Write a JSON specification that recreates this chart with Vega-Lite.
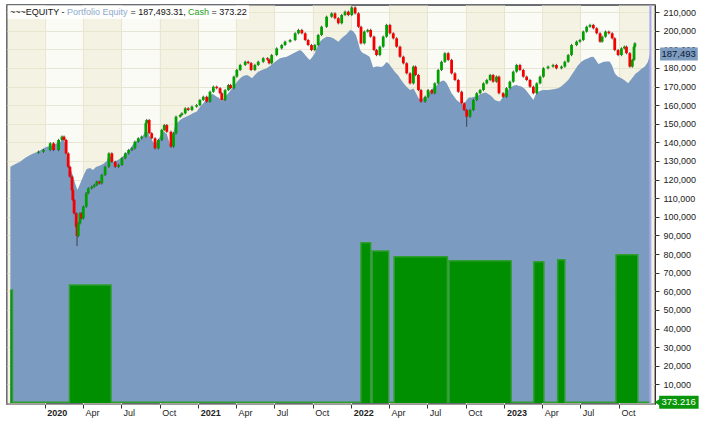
{
  "$schema": "https://vega.github.io/schema/vega-lite/v6.json",
  "width": 648,
  "height": 399,
  "autosize": {"type": "none"},
  "padding": {"left": 7, "top": 5, "right": 47, "bottom": 20},
  "background": "#ffffff",
  "config": {
    "font": "Liberation Sans",
    "scale": {"continuousPadding": 0},
    "view": {"fill": "#fbfbf6", "stroke": "#3b3f47", "strokeWidth": 1.5},
    "axis": {"labelFont": "Liberation Sans", "labelFontSize": 9, "labelColor": "#222222", "tickColor": "#333333", "gridColor": "#e7e5d4", "gridWidth": 1, "labelOverlap": false}
  },
  "datasets": {
    "quarters": [
      {"date": "2019-10-01", "end": "2020-01-01"},
      {"date": "2020-04-01", "end": "2020-07-01"},
      {"date": "2020-10-01", "end": "2021-01-01"},
      {"date": "2021-04-01", "end": "2021-07-01"},
      {"date": "2021-10-01", "end": "2022-01-01"},
      {"date": "2022-04-01", "end": "2022-07-01"},
      {"date": "2022-10-01", "end": "2023-01-01"},
      {"date": "2023-04-01", "end": "2023-07-01"},
      {"date": "2023-10-01", "end": "2024-01-01"}
    ],
    "notes": [{"label": "~~~EQUITY - "}],
    "equity": [
      {"date": "2019-10-11", "equity": 126900}, {"date": "2019-10-23", "equity": 128400},
      {"date": "2019-11-03", "equity": 129600}, {"date": "2019-11-15", "equity": 131600},
      {"date": "2019-11-27", "equity": 133200}, {"date": "2019-12-07", "equity": 134300},
      {"date": "2019-12-16", "equity": 135000}, {"date": "2019-12-26", "equity": 136400},
      {"date": "2020-01-06", "equity": 137700}, {"date": "2020-01-14", "equity": 138100},
      {"date": "2020-01-21", "equity": 138600}, {"date": "2020-01-31", "equity": 139700},
      {"date": "2020-02-07", "equity": 140400}, {"date": "2020-02-14", "equity": 141300},
      {"date": "2020-02-19", "equity": 139700}, {"date": "2020-02-23", "equity": 132200},
      {"date": "2020-02-26", "equity": 129500}, {"date": "2020-03-01", "equity": 126800},
      {"date": "2020-03-06", "equity": 123600}, {"date": "2020-03-09", "equity": 121400},
      {"date": "2020-03-13", "equity": 118200}, {"date": "2020-03-19", "equity": 114400},
      {"date": "2020-03-23", "equity": 116600}, {"date": "2020-03-29", "equity": 119800},
      {"date": "2020-04-04", "equity": 123000}, {"date": "2020-04-10", "equity": 125700},
      {"date": "2020-04-18", "equity": 126200}, {"date": "2020-04-25", "equity": 125200},
      {"date": "2020-05-02", "equity": 126800}, {"date": "2020-05-12", "equity": 127600},
      {"date": "2020-05-19", "equity": 128400}, {"date": "2020-05-28", "equity": 130000},
      {"date": "2020-06-01", "equity": 133200}, {"date": "2020-06-05", "equity": 132700},
      {"date": "2020-06-12", "equity": 129500}, {"date": "2020-06-19", "equity": 130000},
      {"date": "2020-06-29", "equity": 131300}, {"date": "2020-07-06", "equity": 132700},
      {"date": "2020-07-15", "equity": 134600}, {"date": "2020-07-22", "equity": 136400},
      {"date": "2020-07-30", "equity": 139100}, {"date": "2020-08-07", "equity": 140700},
      {"date": "2020-08-15", "equity": 141800}, {"date": "2020-08-22", "equity": 143400},
      {"date": "2020-08-29", "equity": 146700}, {"date": "2020-09-03", "equity": 145000},
      {"date": "2020-09-08", "equity": 142900}, {"date": "2020-09-14", "equity": 140700},
      {"date": "2020-09-20", "equity": 138600}, {"date": "2020-09-27", "equity": 141300},
      {"date": "2020-10-04", "equity": 144000}, {"date": "2020-10-09", "equity": 146100},
      {"date": "2020-10-18", "equity": 144500}, {"date": "2020-10-23", "equity": 140700},
      {"date": "2020-10-26", "equity": 138600}, {"date": "2020-10-31", "equity": 142400},
      {"date": "2020-11-07", "equity": 149600}, {"date": "2020-11-14", "equity": 151000},
      {"date": "2020-11-19", "equity": 152000}, {"date": "2020-11-26", "equity": 153100},
      {"date": "2020-12-03", "equity": 153800}, {"date": "2020-12-12", "equity": 154700},
      {"date": "2020-12-20", "equity": 155800}, {"date": "2020-12-28", "equity": 156500},
      {"date": "2021-01-05", "equity": 159000}, {"date": "2021-01-13", "equity": 161000},
      {"date": "2021-01-21", "equity": 163300}, {"date": "2021-01-29", "equity": 165500},
      {"date": "2021-02-05", "equity": 166000}, {"date": "2021-02-14", "equity": 164500},
      {"date": "2021-02-20", "equity": 163800}, {"date": "2021-02-26", "equity": 161900},
      {"date": "2021-03-04", "equity": 163800}, {"date": "2021-03-10", "equity": 165500},
      {"date": "2021-03-18", "equity": 167600}, {"date": "2021-03-26", "equity": 169900},
      {"date": "2021-04-03", "equity": 172400}, {"date": "2021-04-11", "equity": 174400},
      {"date": "2021-04-18", "equity": 175700}, {"date": "2021-04-27", "equity": 176200},
      {"date": "2021-05-02", "equity": 175700}, {"date": "2021-05-09", "equity": 174400},
      {"date": "2021-05-16", "equity": 176200}, {"date": "2021-05-24", "equity": 178000},
      {"date": "2021-06-02", "equity": 178900}, {"date": "2021-06-13", "equity": 179800},
      {"date": "2021-06-21", "equity": 181000}, {"date": "2021-06-29", "equity": 182500},
      {"date": "2021-07-07", "equity": 184000}, {"date": "2021-07-15", "equity": 185200},
      {"date": "2021-07-22", "equity": 185600}, {"date": "2021-07-31", "equity": 186000},
      {"date": "2021-08-08", "equity": 186900}, {"date": "2021-08-16", "equity": 187900},
      {"date": "2021-08-24", "equity": 188800}, {"date": "2021-09-01", "equity": 189600},
      {"date": "2021-09-07", "equity": 188600}, {"date": "2021-09-13", "equity": 186900},
      {"date": "2021-09-19", "equity": 185300}, {"date": "2021-09-24", "equity": 184300},
      {"date": "2021-09-30", "equity": 185900}, {"date": "2021-10-06", "equity": 187900},
      {"date": "2021-10-12", "equity": 191200}, {"date": "2021-10-18", "equity": 194100},
      {"date": "2021-10-25", "equity": 195500}, {"date": "2021-11-03", "equity": 196800},
      {"date": "2021-11-11", "equity": 196600}, {"date": "2021-11-19", "equity": 195900},
      {"date": "2021-11-25", "equity": 195000}, {"date": "2021-12-01", "equity": 194100},
      {"date": "2021-12-07", "equity": 195500}, {"date": "2021-12-13", "equity": 196800},
      {"date": "2021-12-21", "equity": 198200}, {"date": "2021-12-29", "equity": 200400},
      {"date": "2022-01-05", "equity": 199800}, {"date": "2022-01-12", "equity": 197700},
      {"date": "2022-01-17", "equity": 193900}, {"date": "2022-01-22", "equity": 189600},
      {"date": "2022-01-28", "equity": 188000}, {"date": "2022-02-03", "equity": 187500},
      {"date": "2022-02-09", "equity": 186700}, {"date": "2022-02-14", "equity": 185900},
      {"date": "2022-02-22", "equity": 180200}, {"date": "2022-03-01", "equity": 180800},
      {"date": "2022-03-06", "equity": 180700}, {"date": "2022-03-13", "equity": 180500},
      {"date": "2022-03-18", "equity": 181000}, {"date": "2022-03-26", "equity": 183200},
      {"date": "2022-04-01", "equity": 182100}, {"date": "2022-04-07", "equity": 180200},
      {"date": "2022-04-15", "equity": 177800}, {"date": "2022-04-23", "equity": 175900},
      {"date": "2022-04-28", "equity": 174100}, {"date": "2022-05-05", "equity": 171900},
      {"date": "2022-05-12", "equity": 170000}, {"date": "2022-05-21", "equity": 168100},
      {"date": "2022-05-29", "equity": 168900}, {"date": "2022-06-04", "equity": 166500},
      {"date": "2022-06-10", "equity": 163800}, {"date": "2022-06-16", "equity": 162800},
      {"date": "2022-06-21", "equity": 163800}, {"date": "2022-06-30", "equity": 164400},
      {"date": "2022-07-07", "equity": 167100}, {"date": "2022-07-15", "equity": 169200},
      {"date": "2022-07-23", "equity": 170300}, {"date": "2022-07-29", "equity": 171900},
      {"date": "2022-08-04", "equity": 173000}, {"date": "2022-08-10", "equity": 173200},
      {"date": "2022-08-16", "equity": 171900}, {"date": "2022-08-22", "equity": 169200},
      {"date": "2022-08-28", "equity": 166400}, {"date": "2022-09-03", "equity": 164700},
      {"date": "2022-09-09", "equity": 162800}, {"date": "2022-09-15", "equity": 161700},
      {"date": "2022-09-21", "equity": 160600}, {"date": "2022-09-25", "equity": 160100},
      {"date": "2022-10-03", "equity": 162800}, {"date": "2022-10-08", "equity": 164100},
      {"date": "2022-10-15", "equity": 164100}, {"date": "2022-10-23", "equity": 164700},
      {"date": "2022-10-31", "equity": 165200}, {"date": "2022-11-06", "equity": 166000},
      {"date": "2022-11-12", "equity": 166500}, {"date": "2022-11-18", "equity": 166800},
      {"date": "2022-11-23", "equity": 166000}, {"date": "2022-11-29", "equity": 165200},
      {"date": "2022-12-05", "equity": 163800}, {"date": "2022-12-09", "equity": 162800},
      {"date": "2022-12-15", "equity": 162200}, {"date": "2022-12-21", "equity": 162000},
      {"date": "2022-12-27", "equity": 163800}, {"date": "2023-01-02", "equity": 166000},
      {"date": "2023-01-09", "equity": 167900}, {"date": "2023-01-18", "equity": 169900},
      {"date": "2023-01-24", "equity": 170600}, {"date": "2023-01-30", "equity": 170800},
      {"date": "2023-02-05", "equity": 170300}, {"date": "2023-02-11", "equity": 170000},
      {"date": "2023-02-19", "equity": 168700}, {"date": "2023-02-27", "equity": 166400},
      {"date": "2023-03-05", "equity": 164700}, {"date": "2023-03-11", "equity": 162800},
      {"date": "2023-03-16", "equity": 165500}, {"date": "2023-03-23", "equity": 167200},
      {"date": "2023-03-29", "equity": 167900}, {"date": "2023-04-05", "equity": 168100},
      {"date": "2023-04-15", "equity": 168100}, {"date": "2023-04-24", "equity": 168400},
      {"date": "2023-05-01", "equity": 168700}, {"date": "2023-05-09", "equity": 169100},
      {"date": "2023-05-16", "equity": 170000}, {"date": "2023-05-23", "equity": 171400},
      {"date": "2023-06-02", "equity": 173500}, {"date": "2023-06-10", "equity": 176200},
      {"date": "2023-06-18", "equity": 178900}, {"date": "2023-06-25", "equity": 181300},
      {"date": "2023-07-04", "equity": 183400}, {"date": "2023-07-12", "equity": 184500},
      {"date": "2023-07-20", "equity": 185200}, {"date": "2023-07-26", "equity": 185900},
      {"date": "2023-08-01", "equity": 186000}, {"date": "2023-08-07", "equity": 184300},
      {"date": "2023-08-13", "equity": 182100}, {"date": "2023-08-19", "equity": 182600},
      {"date": "2023-08-24", "equity": 183200}, {"date": "2023-09-01", "equity": 183400},
      {"date": "2023-09-09", "equity": 183400}, {"date": "2023-09-15", "equity": 181000},
      {"date": "2023-09-21", "equity": 177100}, {"date": "2023-09-28", "equity": 175400},
      {"date": "2023-10-07", "equity": 174400}, {"date": "2023-10-15", "equity": 173200},
      {"date": "2023-10-23", "equity": 171700}, {"date": "2023-10-29", "equity": 173500},
      {"date": "2023-11-04", "equity": 175300}, {"date": "2023-11-10", "equity": 177000},
      {"date": "2023-11-16", "equity": 178000}, {"date": "2023-11-23", "equity": 179400},
      {"date": "2023-12-02", "equity": 180700}, {"date": "2023-12-09", "equity": 183200},
      {"date": "2023-12-14", "equity": 187500}
    ],
    "cash": [
      {"date": "2019-10-11", "cash": 60700}, {"date": "2019-10-16", "cash": 373},
      {"date": "2020-02-29", "cash": 63400}, {"date": "2020-06-07", "cash": 373},
      {"date": "2022-01-24", "cash": 86100}, {"date": "2022-02-16", "cash": 373},
      {"date": "2022-02-20", "cash": 81700}, {"date": "2022-03-31", "cash": 373},
      {"date": "2022-04-13", "cash": 78600}, {"date": "2022-08-18", "cash": 373},
      {"date": "2022-08-22", "cash": 76400}, {"date": "2023-01-17", "cash": 373},
      {"date": "2023-03-12", "cash": 75900}, {"date": "2023-04-05", "cash": 373},
      {"date": "2023-05-08", "cash": 77000}, {"date": "2023-05-25", "cash": 373},
      {"date": "2023-09-24", "cash": 79700}, {"date": "2023-11-15", "cash": 373},
      {"date": "2023-12-14", "cash": 373}
    ],
    "candles": [
      {"date": "2019-12-17", "open": 134500, "close": 135000, "high": 135600, "low": 133900},
      {"date": "2019-12-29", "open": 135000, "close": 135900, "high": 136500, "low": 134400},
      {"date": "2020-01-14", "open": 135900, "close": 139500, "high": 140100, "low": 135300},
      {"date": "2020-01-22", "open": 139500, "close": 135900, "high": 140100, "low": 135300},
      {"date": "2020-02-03", "open": 135900, "close": 141300, "high": 141900, "low": 135300},
      {"date": "2020-02-11", "open": 141300, "close": 143100, "high": 143700, "low": 140700},
      {"date": "2020-02-16", "open": 143100, "close": 141300, "high": 143700, "low": 140700},
      {"date": "2020-02-21", "open": 141300, "close": 134100, "high": 141900, "low": 133500},
      {"date": "2020-02-26", "open": 134100, "close": 126900, "high": 134700, "low": 126300},
      {"date": "2020-03-01", "open": 126900, "close": 121600, "high": 127500, "low": 121000},
      {"date": "2020-03-06", "open": 121600, "close": 114400, "high": 122200, "low": 113800},
      {"date": "2020-03-08", "open": 114400, "close": 109100, "high": 115000, "low": 108500},
      {"date": "2020-03-11", "open": 109100, "close": 101900, "high": 109700, "low": 101300},
      {"date": "2020-03-16", "open": 101900, "close": 94700, "high": 102500, "low": 94100},
      {"date": "2020-03-18", "open": 94700, "close": 89700, "high": 95300, "low": 84300},
      {"date": "2020-03-21", "open": 89700, "close": 96500, "high": 97100, "low": 89100},
      {"date": "2020-03-25", "open": 96500, "close": 101900, "high": 102500, "low": 95900},
      {"date": "2020-03-29", "open": 101900, "close": 99200, "high": 102500, "low": 98600},
      {"date": "2020-04-02", "open": 99200, "close": 105500, "high": 106100, "low": 98600},
      {"date": "2020-04-09", "open": 105500, "close": 112700, "high": 113300, "low": 104900},
      {"date": "2020-04-14", "open": 112700, "close": 115300, "high": 115900, "low": 112100},
      {"date": "2020-04-22", "open": 115300, "close": 116200, "high": 116800, "low": 114700},
      {"date": "2020-04-28", "open": 116200, "close": 117100, "high": 117700, "low": 115600},
      {"date": "2020-05-04", "open": 117100, "close": 118900, "high": 119500, "low": 116500},
      {"date": "2020-05-10", "open": 118900, "close": 118000, "high": 119500, "low": 117400},
      {"date": "2020-05-16", "open": 118000, "close": 122500, "high": 123100, "low": 117400},
      {"date": "2020-05-24", "open": 122500, "close": 126900, "high": 127500, "low": 121900},
      {"date": "2020-06-02", "open": 126900, "close": 134100, "high": 134700, "low": 126300},
      {"date": "2020-06-09", "open": 134100, "close": 129600, "high": 134700, "low": 129000},
      {"date": "2020-06-17", "open": 129600, "close": 126900, "high": 130200, "low": 126300},
      {"date": "2020-06-25", "open": 126900, "close": 127900, "high": 128500, "low": 126300},
      {"date": "2020-07-03", "open": 127900, "close": 131500, "high": 132100, "low": 127300},
      {"date": "2020-07-11", "open": 131500, "close": 134100, "high": 134700, "low": 130900},
      {"date": "2020-07-19", "open": 134100, "close": 135900, "high": 136500, "low": 133500},
      {"date": "2020-07-27", "open": 135900, "close": 136800, "high": 137400, "low": 135300},
      {"date": "2020-08-03", "open": 136800, "close": 140400, "high": 141000, "low": 136200},
      {"date": "2020-08-11", "open": 140400, "close": 142200, "high": 142800, "low": 139800},
      {"date": "2020-08-19", "open": 142200, "close": 143100, "high": 143700, "low": 141600},
      {"date": "2020-08-29", "open": 143100, "close": 150300, "high": 150900, "low": 142500},
      {"date": "2020-08-31", "open": 150300, "close": 152000, "high": 152600, "low": 149700},
      {"date": "2020-09-06", "open": 152000, "close": 144900, "high": 152600, "low": 144300},
      {"date": "2020-09-12", "open": 144900, "close": 142200, "high": 145500, "low": 141600},
      {"date": "2020-09-20", "open": 142200, "close": 136800, "high": 142800, "low": 136200},
      {"date": "2020-09-28", "open": 136800, "close": 141300, "high": 141900, "low": 136200},
      {"date": "2020-10-06", "open": 141300, "close": 146700, "high": 147300, "low": 140700},
      {"date": "2020-10-12", "open": 146700, "close": 149300, "high": 149900, "low": 146100},
      {"date": "2020-10-18", "open": 149300, "close": 145700, "high": 149900, "low": 145100},
      {"date": "2020-10-28", "open": 145700, "close": 137700, "high": 146300, "low": 137100},
      {"date": "2020-11-03", "open": 137700, "close": 144900, "high": 145500, "low": 137100},
      {"date": "2020-11-09", "open": 144900, "close": 153800, "high": 154400, "low": 144300},
      {"date": "2020-11-19", "open": 153800, "close": 154700, "high": 155300, "low": 153200},
      {"date": "2020-11-23", "open": 154700, "close": 155600, "high": 156200, "low": 154100},
      {"date": "2020-12-01", "open": 155600, "close": 158300, "high": 158900, "low": 155000},
      {"date": "2020-12-08", "open": 158300, "close": 157400, "high": 158900, "low": 156800},
      {"date": "2020-12-17", "open": 157400, "close": 159200, "high": 159800, "low": 156800},
      {"date": "2020-12-28", "open": 159200, "close": 160000, "high": 160600, "low": 158600},
      {"date": "2021-01-05", "open": 160000, "close": 162800, "high": 163400, "low": 159400},
      {"date": "2021-01-13", "open": 162800, "close": 164500, "high": 165100, "low": 162200},
      {"date": "2021-01-21", "open": 164500, "close": 161900, "high": 165100, "low": 161300},
      {"date": "2021-01-29", "open": 161900, "close": 167200, "high": 167800, "low": 161300},
      {"date": "2021-02-06", "open": 167200, "close": 169900, "high": 170500, "low": 166600},
      {"date": "2021-02-14", "open": 169900, "close": 169100, "high": 170500, "low": 168500},
      {"date": "2021-02-22", "open": 169100, "close": 166400, "high": 169700, "low": 165800},
      {"date": "2021-02-26", "open": 166400, "close": 162800, "high": 167000, "low": 162200},
      {"date": "2021-03-06", "open": 162800, "close": 168100, "high": 168700, "low": 162200},
      {"date": "2021-03-14", "open": 168100, "close": 170800, "high": 171400, "low": 167500},
      {"date": "2021-03-19", "open": 170800, "close": 169100, "high": 171400, "low": 168500},
      {"date": "2021-03-27", "open": 169100, "close": 175300, "high": 175900, "low": 168500},
      {"date": "2021-04-03", "open": 175300, "close": 178900, "high": 179500, "low": 174700},
      {"date": "2021-04-11", "open": 178900, "close": 181600, "high": 182200, "low": 178300},
      {"date": "2021-04-23", "open": 181600, "close": 183300, "high": 183900, "low": 181000},
      {"date": "2021-04-30", "open": 183300, "close": 182600, "high": 183900, "low": 182000},
      {"date": "2021-05-07", "open": 182600, "close": 178900, "high": 183200, "low": 178300},
      {"date": "2021-05-16", "open": 178900, "close": 181600, "high": 182200, "low": 178300},
      {"date": "2021-05-24", "open": 181600, "close": 183300, "high": 183900, "low": 181000},
      {"date": "2021-06-05", "open": 183300, "close": 185200, "high": 185800, "low": 182700},
      {"date": "2021-06-15", "open": 185200, "close": 184500, "high": 185800, "low": 183900},
      {"date": "2021-06-19", "open": 184500, "close": 182500, "high": 185100, "low": 181900},
      {"date": "2021-06-25", "open": 182500, "close": 186900, "high": 187500, "low": 181900},
      {"date": "2021-07-07", "open": 186900, "close": 190500, "high": 191100, "low": 186300},
      {"date": "2021-07-19", "open": 190500, "close": 192300, "high": 192900, "low": 189900},
      {"date": "2021-07-27", "open": 192300, "close": 194100, "high": 194700, "low": 191700},
      {"date": "2021-08-08", "open": 194100, "close": 195000, "high": 195600, "low": 193500},
      {"date": "2021-08-20", "open": 195000, "close": 198600, "high": 199200, "low": 194400},
      {"date": "2021-08-28", "open": 198600, "close": 200400, "high": 201000, "low": 198000},
      {"date": "2021-09-05", "open": 200400, "close": 198600, "high": 201000, "low": 198000},
      {"date": "2021-09-13", "open": 198600, "close": 195000, "high": 199200, "low": 194400},
      {"date": "2021-09-20", "open": 195000, "close": 192300, "high": 195600, "low": 191700},
      {"date": "2021-09-28", "open": 192300, "close": 189600, "high": 192900, "low": 189000},
      {"date": "2021-10-06", "open": 189600, "close": 192300, "high": 192900, "low": 189000},
      {"date": "2021-10-14", "open": 192300, "close": 197700, "high": 198300, "low": 191700},
      {"date": "2021-10-22", "open": 197700, "close": 202100, "high": 202700, "low": 197100},
      {"date": "2021-11-03", "open": 202100, "close": 207500, "high": 208100, "low": 201500},
      {"date": "2021-11-15", "open": 207500, "close": 209300, "high": 209900, "low": 206900},
      {"date": "2021-11-23", "open": 209300, "close": 206700, "high": 209900, "low": 206100},
      {"date": "2021-12-01", "open": 206700, "close": 204000, "high": 207300, "low": 203400},
      {"date": "2021-12-09", "open": 204000, "close": 208400, "high": 209000, "low": 203400},
      {"date": "2021-12-17", "open": 208400, "close": 210200, "high": 210800, "low": 207800},
      {"date": "2021-12-25", "open": 210200, "close": 208400, "high": 210800, "low": 207800},
      {"date": "2022-01-02", "open": 208400, "close": 212500, "high": 213400, "low": 207800},
      {"date": "2022-01-10", "open": 212500, "close": 209300, "high": 213100, "low": 208700},
      {"date": "2022-01-18", "open": 209300, "close": 202100, "high": 209900, "low": 201500},
      {"date": "2022-01-24", "open": 202100, "close": 193200, "high": 202700, "low": 192600},
      {"date": "2022-02-01", "open": 193200, "close": 199500, "high": 200100, "low": 192600},
      {"date": "2022-02-09", "open": 199500, "close": 200400, "high": 201000, "low": 198900},
      {"date": "2022-02-16", "open": 200400, "close": 196800, "high": 201000, "low": 196200},
      {"date": "2022-02-24", "open": 196800, "close": 189600, "high": 197400, "low": 189000},
      {"date": "2022-03-02", "open": 189600, "close": 186900, "high": 190200, "low": 186300},
      {"date": "2022-03-10", "open": 186900, "close": 191400, "high": 192000, "low": 186300},
      {"date": "2022-03-18", "open": 191400, "close": 196800, "high": 197400, "low": 190800},
      {"date": "2022-03-26", "open": 196800, "close": 203100, "high": 203700, "low": 196200},
      {"date": "2022-04-03", "open": 203100, "close": 198600, "high": 203700, "low": 198000},
      {"date": "2022-04-11", "open": 198600, "close": 195900, "high": 199200, "low": 195300},
      {"date": "2022-04-19", "open": 195900, "close": 191400, "high": 196500, "low": 190800},
      {"date": "2022-04-27", "open": 191400, "close": 186000, "high": 192000, "low": 185400},
      {"date": "2022-05-05", "open": 186000, "close": 182500, "high": 186600, "low": 181900},
      {"date": "2022-05-13", "open": 182500, "close": 177100, "high": 183100, "low": 176500},
      {"date": "2022-05-21", "open": 177100, "close": 171700, "high": 177700, "low": 171100},
      {"date": "2022-05-29", "open": 171700, "close": 180700, "high": 181300, "low": 171100},
      {"date": "2022-06-03", "open": 180700, "close": 176200, "high": 181300, "low": 175600},
      {"date": "2022-06-10", "open": 176200, "close": 168100, "high": 176800, "low": 167500},
      {"date": "2022-06-16", "open": 168100, "close": 161900, "high": 168700, "low": 161300},
      {"date": "2022-06-26", "open": 161900, "close": 164500, "high": 165100, "low": 161300},
      {"date": "2022-07-03", "open": 164500, "close": 168100, "high": 168700, "low": 163900},
      {"date": "2022-07-12", "open": 168100, "close": 166400, "high": 168700, "low": 165800},
      {"date": "2022-07-19", "open": 166400, "close": 171700, "high": 172300, "low": 165800},
      {"date": "2022-07-27", "open": 171700, "close": 178900, "high": 179500, "low": 171100},
      {"date": "2022-08-04", "open": 178900, "close": 183300, "high": 183900, "low": 178300},
      {"date": "2022-08-12", "open": 183300, "close": 187900, "high": 188500, "low": 182700},
      {"date": "2022-08-20", "open": 187900, "close": 184300, "high": 188500, "low": 183700},
      {"date": "2022-08-28", "open": 184300, "close": 177100, "high": 184900, "low": 176500},
      {"date": "2022-09-05", "open": 177100, "close": 173500, "high": 177700, "low": 172900},
      {"date": "2022-09-13", "open": 173500, "close": 167200, "high": 174100, "low": 166600},
      {"date": "2022-09-21", "open": 167200, "close": 161000, "high": 167800, "low": 160400},
      {"date": "2022-09-27", "open": 161000, "close": 157400, "high": 161600, "low": 156800},
      {"date": "2022-10-03", "open": 157400, "close": 153800, "high": 158000, "low": 148400},
      {"date": "2022-10-11", "open": 153800, "close": 157400, "high": 158000, "low": 153200},
      {"date": "2022-10-19", "open": 157400, "close": 162800, "high": 163400, "low": 156800},
      {"date": "2022-10-27", "open": 162800, "close": 166400, "high": 167000, "low": 162200},
      {"date": "2022-11-04", "open": 166400, "close": 168100, "high": 168700, "low": 165800},
      {"date": "2022-11-12", "open": 168100, "close": 171700, "high": 172300, "low": 167500},
      {"date": "2022-11-20", "open": 171700, "close": 173500, "high": 174100, "low": 171100},
      {"date": "2022-11-28", "open": 173500, "close": 176200, "high": 176800, "low": 172900},
      {"date": "2022-12-05", "open": 176200, "close": 172600, "high": 176800, "low": 172000},
      {"date": "2022-12-13", "open": 172600, "close": 175300, "high": 175900, "low": 172000},
      {"date": "2022-12-19", "open": 175300, "close": 166400, "high": 175900, "low": 165800},
      {"date": "2022-12-29", "open": 166400, "close": 164500, "high": 167000, "low": 163900},
      {"date": "2023-01-06", "open": 164500, "close": 169100, "high": 169700, "low": 163900},
      {"date": "2023-01-14", "open": 169100, "close": 172600, "high": 173200, "low": 168500},
      {"date": "2023-01-22", "open": 172600, "close": 178000, "high": 178600, "low": 172000},
      {"date": "2023-01-30", "open": 178000, "close": 181600, "high": 182200, "low": 177400},
      {"date": "2023-02-07", "open": 181600, "close": 178900, "high": 182200, "low": 178300},
      {"date": "2023-02-15", "open": 178900, "close": 175300, "high": 179500, "low": 174700},
      {"date": "2023-02-23", "open": 175300, "close": 173500, "high": 175900, "low": 172900},
      {"date": "2023-03-03", "open": 173500, "close": 169900, "high": 174100, "low": 169300},
      {"date": "2023-03-11", "open": 169900, "close": 166400, "high": 170500, "low": 165800},
      {"date": "2023-03-19", "open": 166400, "close": 171700, "high": 172300, "low": 165800},
      {"date": "2023-03-27", "open": 171700, "close": 175300, "high": 175900, "low": 171100},
      {"date": "2023-04-04", "open": 175300, "close": 179800, "high": 180400, "low": 174700},
      {"date": "2023-04-15", "open": 179800, "close": 180700, "high": 181300, "low": 179200},
      {"date": "2023-04-27", "open": 180700, "close": 181600, "high": 182200, "low": 180100},
      {"date": "2023-05-05", "open": 181600, "close": 179800, "high": 182200, "low": 179200},
      {"date": "2023-05-17", "open": 179800, "close": 180700, "high": 181300, "low": 179200},
      {"date": "2023-05-25", "open": 180700, "close": 183300, "high": 183900, "low": 180100},
      {"date": "2023-06-02", "open": 183300, "close": 186900, "high": 187500, "low": 182700},
      {"date": "2023-06-10", "open": 186900, "close": 192300, "high": 192900, "low": 186300},
      {"date": "2023-06-22", "open": 192300, "close": 194100, "high": 194700, "low": 191700},
      {"date": "2023-06-30", "open": 194100, "close": 195000, "high": 195600, "low": 193500},
      {"date": "2023-07-08", "open": 195000, "close": 199500, "high": 200100, "low": 194400},
      {"date": "2023-07-16", "open": 199500, "close": 202100, "high": 202700, "low": 198900},
      {"date": "2023-07-24", "open": 202100, "close": 203100, "high": 203700, "low": 201500},
      {"date": "2023-08-01", "open": 203100, "close": 201300, "high": 203700, "low": 200700},
      {"date": "2023-08-09", "open": 201300, "close": 198600, "high": 201900, "low": 198000},
      {"date": "2023-08-17", "open": 198600, "close": 194100, "high": 199200, "low": 193500},
      {"date": "2023-08-22", "open": 194100, "close": 196800, "high": 197400, "low": 193500},
      {"date": "2023-08-30", "open": 196800, "close": 199500, "high": 200100, "low": 196200},
      {"date": "2023-09-07", "open": 199500, "close": 198600, "high": 200100, "low": 198000},
      {"date": "2023-09-15", "open": 198600, "close": 195900, "high": 199200, "low": 195300},
      {"date": "2023-09-21", "open": 195900, "close": 189600, "high": 196500, "low": 189000},
      {"date": "2023-09-29", "open": 189600, "close": 186900, "high": 190200, "low": 186300},
      {"date": "2023-10-07", "open": 186900, "close": 190500, "high": 191100, "low": 186300},
      {"date": "2023-10-14", "open": 190500, "close": 191400, "high": 192000, "low": 189900},
      {"date": "2023-10-19", "open": 191400, "close": 187900, "high": 192000, "low": 187300},
      {"date": "2023-10-27", "open": 187900, "close": 180700, "high": 188500, "low": 180100},
      {"date": "2023-11-02", "open": 180700, "close": 184300, "high": 184900, "low": 180100},
      {"date": "2023-11-06", "open": 184300, "close": 191400, "high": 192000, "low": 183700},
      {"date": "2023-11-08", "open": 191400, "close": 193200, "high": 193800, "low": 190800}
    ]
  },
  "layer": [
    {
      "data": {"name": "quarters"},
      "mark": {"type": "rect", "fill": "#ebe7cc", "opacity": 0.45, "clip": true},
      "encoding": {
        "x": {
          "field": "date", "type": "temporal", "title": null,
          "scale": {"type": "utc", "domain": [1570060800000, 1703548800000], "nice": false, "padding": 0},
          "axis": {
            "tickCount": {"interval": "month", "step": 3},
            "labelExpr": "utcFormat(datum.value, utcmonth(datum.value) == 0 ? '%Y' : '%b')",
            "labelFontWeight": {"condition": {"test": "utcmonth(datum.value) == 0", "value": "bold"}, "value": "normal"},
            "labelAlign": "left",
            "labelOffset": 2,
            "labelPadding": 0,
            "labelOverlap": false,
            "labelFlush": false,
            "tickSize": 4,
            "grid": true,
            "domainColor": "#9a9a9a"
          }
        },
        "x2": {"field": "end"}
      }
    },
    {
      "data": {"name": "equity"},
      "mark": {"type": "area", "color": "#7b9bc1", "opacity": 1, "clip": true},
      "encoding": {
        "x": {"field": "date", "type": "temporal", "title": null, "scale": {"type": "utc", "domain": [1570060800000, 1703548800000], "nice": false, "padding": 0}},
        "y": {
          "field": "equity", "type": "quantitative", "title": null,
          "scale": {"domain": [-537, 213800], "nice": false, "zero": false, "padding": 0},
          "axis": {"orient": "right", "format": ",d", "grid": true, "labelOverlap": false, "tickCount": 40, "tickSize": 4, "labelPadding": 4, "domainColor": "#333333", "values": [10000, 20000, 30000, 40000, 50000, 60000, 70000, 80000, 90000, 100000, 110000, 120000, 130000, 140000, 150000, 160000, 170000, 180000, 190000, 200000, 210000]}
        }
      }
    },
    {
      "data": {"name": "cash"},
      "mark": {"type": "area", "interpolate": "step-after", "color": "#008f00", "opacity": 1, "line": {"color": "#2f9e2f", "strokeWidth": 1.5}},
      "encoding": {
        "x": {"field": "date", "type": "temporal", "title": null, "scale": {"type": "utc", "domain": [1570060800000, 1703548800000], "nice": false, "padding": 0}},
        "y": {
          "field": "cash", "type": "quantitative", "title": null,
          "scale": {"domain": [-537, 213800], "nice": false, "zero": false, "padding": 0},
          "axis": {"orient": "right", "format": ",d", "grid": true, "labelOverlap": false, "tickCount": 40, "tickSize": 4, "labelPadding": 4, "domainColor": "#333333", "values": [10000, 20000, 30000, 40000, 50000, 60000, 70000, 80000, 90000, 100000, 110000, 120000, 130000, 140000, 150000, 160000, 170000, 180000, 190000, 200000, 210000]}
        }
      }
    },
    {
      "data": {"name": "candles"},
      "mark": {"type": "rule", "color": "#2b2b2b", "strokeWidth": 0.8},
      "encoding": {
        "x": {"field": "date", "type": "temporal", "title": null, "scale": {"type": "utc", "domain": [1570060800000, 1703548800000], "nice": false, "padding": 0}},
        "y": {
          "field": "low", "type": "quantitative", "title": null,
          "scale": {"domain": [-537, 213800], "nice": false, "zero": false, "padding": 0},
          "axis": {"orient": "right", "format": ",d", "grid": true, "labelOverlap": false, "tickCount": 40, "tickSize": 4, "labelPadding": 4, "domainColor": "#333333", "values": [10000, 20000, 30000, 40000, 50000, 60000, 70000, 80000, 90000, 100000, 110000, 120000, 130000, 140000, 150000, 160000, 170000, 180000, 190000, 200000, 210000]}
        },
        "y2": {"field": "high"}
      }
    },
    {
      "data": {"name": "candles"},
      "mark": {"type": "bar", "width": 2.8},
      "encoding": {
        "x": {"field": "date", "type": "temporal", "title": null, "scale": {"type": "utc", "domain": [1570060800000, 1703548800000], "nice": false, "padding": 0}},
        "y": {
          "field": "open", "type": "quantitative", "title": null,
          "scale": {"domain": [-537, 213800], "nice": false, "zero": false, "padding": 0},
          "axis": {"orient": "right", "format": ",d", "grid": true, "labelOverlap": false, "tickCount": 40, "tickSize": 4, "labelPadding": 4, "domainColor": "#333333", "values": [10000, 20000, 30000, 40000, 50000, 60000, 70000, 80000, 90000, 100000, 110000, 120000, 130000, 140000, 150000, 160000, 170000, 180000, 190000, 200000, 210000]}
        },
        "y2": {"field": "close"},
        "color": {"condition": {"test": "datum.close >= datum.open", "value": "#00a000"}, "value": "#f50000"}
      }
    },
    {
      "data": {"name": "notes"},
      "mark": {"type": "rule", "color": "#a8a8f0", "strokeWidth": 2},
      "encoding": {"x": {"datum": 1702598400000, "type": "temporal"}}
    },
    {
      "data": {"name": "notes"},
      "mark": {"type": "rect", "fill": "#ffffff", "opacity": 0.85},
      "encoding": {
        "x": {"datum": 1570233600000, "type": "temporal"},
        "x2": {"datum": 1619913600000},
        "y": {"datum": 206300, "type": "quantitative"},
        "y2": {"datum": 213700}
      }
    },
    {
      "data": {"name": "notes"},
      "mark": {"type": "text", "align": "left", "baseline": "middle", "fontSize": 9, "color": "#111111"},
      "encoding": {"text": {"field": "label"}, "x": {"datum": 1570665600000, "type": "temporal"}, "y": {"datum": 210000, "type": "quantitative"}}
    },
    {
      "data": {"name": "notes"},
      "mark": {"type": "text", "text": "Portfolio Equity", "align": "left", "baseline": "middle", "fontSize": 9, "dx": 57, "color": "#8dabd0"},
      "encoding": {"x": {"datum": 1570665600000, "type": "temporal"}, "y": {"datum": 210000, "type": "quantitative"}}
    },
    {
      "data": {"name": "notes"},
      "mark": {"type": "text", "text": "= 187,493.31,", "align": "left", "baseline": "middle", "fontSize": 9, "dx": 120.5, "color": "#111111"},
      "encoding": {"x": {"datum": 1570665600000, "type": "temporal"}, "y": {"datum": 210000, "type": "quantitative"}}
    },
    {
      "data": {"name": "notes"},
      "mark": {"type": "text", "text": "Cash", "align": "left", "baseline": "middle", "fontSize": 9, "dx": 178, "color": "#1f9e1f"},
      "encoding": {"x": {"datum": 1570665600000, "type": "temporal"}, "y": {"datum": 210000, "type": "quantitative"}}
    },
    {
      "data": {"name": "notes"},
      "mark": {"type": "text", "text": "= 373.22", "align": "left", "baseline": "middle", "fontSize": 9, "dx": 201.5, "color": "#111111"},
      "encoding": {"x": {"datum": 1570665600000, "type": "temporal"}, "y": {"datum": 210000, "type": "quantitative"}}
    },
    {
      "data": {"name": "notes"},
      "mark": {"type": "rule", "color": "#7d9cc0", "strokeWidth": 13},
      "encoding": {
        "x": {"datum": 1704585600000, "type": "temporal"},
        "x2": {"datum": 1712361600000},
        "y": {"datum": 187493, "type": "quantitative"}
      }
    },
    {
      "data": {"name": "notes"},
      "mark": {"type": "text", "text": "187,493", "align": "left", "baseline": "middle", "fontSize": 9.5, "dx": 1, "color": "#0d1a33"},
      "encoding": {"x": {"datum": 1704672000000, "type": "temporal"}, "y": {"datum": 187493, "type": "quantitative"}}
    },
    {
      "data": {"name": "notes"},
      "mark": {"type": "rule", "color": "#0a960a", "strokeWidth": 13},
      "encoding": {
        "x": {"datum": 1704412800000, "type": "temporal"},
        "x2": {"datum": 1712534400000},
        "y": {"datum": 373, "type": "quantitative"}
      }
    },
    {
      "data": {"name": "notes"},
      "mark": {"type": "point", "shape": "triangle-left", "filled": true, "size": 70, "color": "#0a960a", "opacity": 1},
      "encoding": {"x": {"datum": 1704153600000, "type": "temporal"}, "y": {"datum": 373, "type": "quantitative"}}
    },
    {
      "data": {"name": "notes"},
      "mark": {"type": "text", "text": "373.216", "align": "left", "baseline": "middle", "fontSize": 9.5, "dx": 1, "color": "#ffffff"},
      "encoding": {"x": {"datum": 1704672000000, "type": "temporal"}, "y": {"datum": 373, "type": "quantitative"}}
    }
  ]
}
